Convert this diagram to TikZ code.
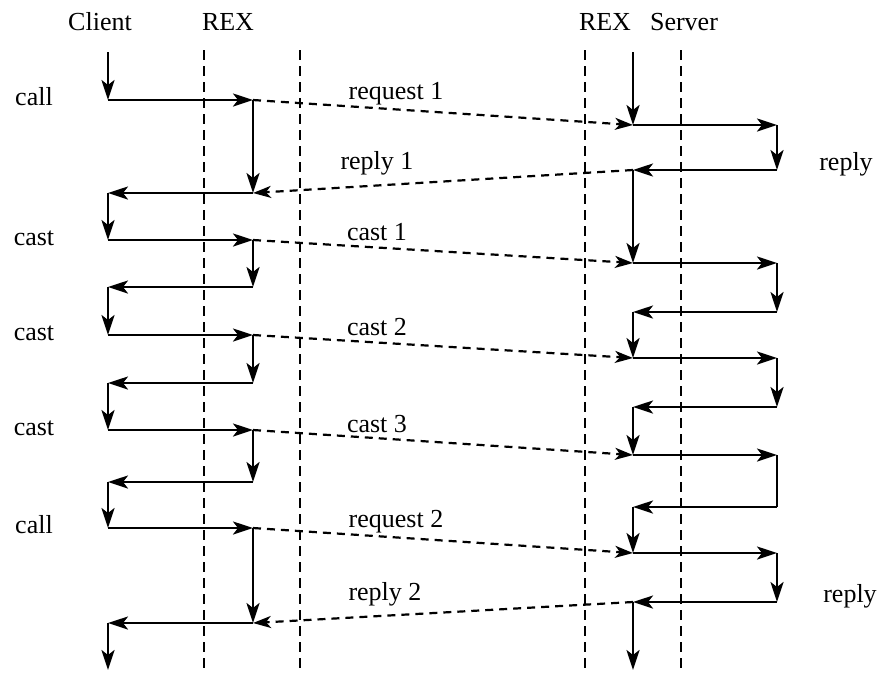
\documentclass[tikz,border=0pt]{standalone}
\usepackage{fontspec}
\setmainfont{Liberation Serif}
\usetikzlibrary{arrows.meta}
\begin{document}
\begin{tikzpicture}[x=1pt,y=-1pt,
  flow/.style={line width=2.5pt,-{Stealth[length=20pt,width=13pt,inset=5pt]}},
  seg/.style={line width=2.5pt},
  msg/.style={line width=2.2pt,dash pattern=on 8pt off 6pt,-{Stealth[length=18pt,width=12pt,inset=5pt]}},
  lifeline/.style={line width=2.2pt,dash pattern=on 10pt off 6pt},
  lbl/.style={font=\fontsize{26}{30}\selectfont,inner sep=0pt}]
\useasboundingbox (0,0) rectangle (882,673);
% headings
\node[lbl] (hclient) at (100,22) {Client};
\node[lbl] (hrex1) at (228,22) {REX};
\node[lbl] (hrex2) at (605,22) {REX};
\node[lbl] (hserver) at (684,22) {Server};
% dashed lifelines
\coordinate (l1t) at (204,50); \coordinate (l1b) at (204,670);
\coordinate (l2t) at (300,50); \coordinate (l2b) at (300,670);
\coordinate (l3t) at (585,50); \coordinate (l3b) at (585,670);
\coordinate (l4t) at (681,50); \coordinate (l4b) at (681,670);
\draw[lifeline] (l1t) -- (l1b);
\draw[lifeline] (l2t) -- (l2b);
\draw[lifeline] (l3t) -- (l3b);
\draw[lifeline] (l4t) -- (l4b);
% client side points
\coordinate (c0) at (108,52);
\coordinate (a1) at (108,100); \coordinate (b1) at (253,100);
\coordinate (b2) at (253,193); \coordinate (a2) at (108,193);
\coordinate (a3) at (108,240); \coordinate (b3) at (253,240);
\coordinate (b4) at (253,287); \coordinate (a4) at (108,287);
\coordinate (a5) at (108,335); \coordinate (b5) at (253,335);
\coordinate (b6) at (253,383); \coordinate (a6) at (108,383);
\coordinate (a7) at (108,430); \coordinate (b7) at (253,430);
\coordinate (b8) at (253,482); \coordinate (a8) at (108,482);
\coordinate (a9) at (108,528); \coordinate (b9) at (253,528);
\coordinate (b10) at (253,623); \coordinate (a10) at (108,623);
\coordinate (cend) at (108,670);
% server side points
\coordinate (s0) at (633,52);
\coordinate (p1) at (633,125); \coordinate (q1) at (777,125);
\coordinate (q2) at (777,170); \coordinate (p2) at (633,170);
\coordinate (p3) at (633,263); \coordinate (q3) at (777,263);
\coordinate (q4) at (777,312); \coordinate (p4) at (633,312);
\coordinate (p5) at (633,358); \coordinate (q5) at (777,358);
\coordinate (q6) at (777,407); \coordinate (p6) at (633,407);
\coordinate (p7) at (633,455); \coordinate (q7) at (777,455);
\coordinate (q8) at (777,507); \coordinate (p8) at (633,507);
\coordinate (p9) at (633,553); \coordinate (q9) at (777,553);
\coordinate (q10) at (777,602); \coordinate (p10) at (633,602);
\coordinate (send) at (633,670);
% client flow
\draw[flow] (c0) -- (a1);
\draw[flow] (a1) -- (b1);
\draw[flow] (b1) -- (b2);
\draw[flow] (b2) -- (a2);
\draw[flow] (a2) -- (a3);
\draw[flow] (a3) -- (b3);
\draw[flow] (b3) -- (b4);
\draw[flow] (b4) -- (a4);
\draw[flow] (a4) -- (a5);
\draw[flow] (a5) -- (b5);
\draw[flow] (b5) -- (b6);
\draw[flow] (b6) -- (a6);
\draw[flow] (a6) -- (a7);
\draw[flow] (a7) -- (b7);
\draw[flow] (b7) -- (b8);
\draw[flow] (b8) -- (a8);
\draw[flow] (a8) -- (a9);
\draw[flow] (a9) -- (b9);
\draw[flow] (b9) -- (b10);
\draw[flow] (b10) -- (a10);
\draw[flow] (a10) -- (cend);
% server flow
\draw[flow] (s0) -- (p1);
\draw[flow] (p1) -- (q1);
\draw[flow] (q1) -- (q2);
\draw[flow] (q2) -- (p2);
\draw[flow] (p2) -- (p3);
\draw[flow] (p3) -- (q3);
\draw[flow] (q3) -- (q4);
\draw[flow] (q4) -- (p4);
\draw[flow] (p4) -- (p5);
\draw[flow] (p5) -- (q5);
\draw[flow] (q5) -- (q6);
\draw[flow] (q6) -- (p6);
\draw[flow] (p6) -- (p7);
\draw[flow] (p7) -- (q7);
\draw[seg] (q7) -- (q8);
\draw[flow] (q8) -- (p8);
\draw[flow] (p8) -- (p9);
\draw[flow] (p9) -- (q9);
\draw[flow] (q9) -- (q10);
\draw[flow] (q10) -- (p10);
\draw[flow] (p10) -- (send);
% messages
\draw[msg] (b1) -- (p1);
\draw[msg] (p2) -- (b2);
\draw[msg] (b3) -- (p3);
\draw[msg] (b5) -- (p5);
\draw[msg] (b7) -- (p7);
\draw[msg] (b9) -- (p9);
\draw[msg] (p10) -- (b10);
% left labels
\node[lbl] (lcall1) at (34,97) {call};
\node[lbl] (lcast1) at (34,238) {cast};
\node[lbl] (lcast2) at (34,333) {cast};
\node[lbl] (lcast3) at (34,428) {cast};
\node[lbl] (lcall2) at (34,525) {call};
% message labels
\node[lbl] (mreq1) at (396,94) {request 1};
\node[lbl] (mrep1) at (377,163) {reply 1};
\node[lbl] (mcast1) at (377,232) {cast 1};
\node[lbl] (mcast2) at (377,327) {cast 2};
\node[lbl] (mcast3) at (377,424) {cast 3};
\node[lbl] (mreq2) at (396,522) {request 2};
\node[lbl] (mrep2) at (385,594) {reply 2};
% right labels
\node[lbl] (rrep1) at (846,164) {reply};
\node[lbl] (rrep2) at (850,596) {reply};
\end{tikzpicture}
\end{document}
